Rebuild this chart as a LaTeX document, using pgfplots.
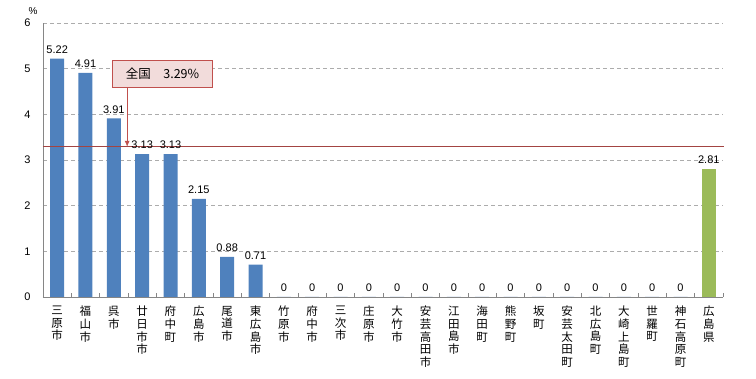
\documentclass[border=0pt]{standalone}
\usepackage{pgfplots}
\pgfplotsset{compat=1.18}
\usetikzlibrary{arrows.meta}
\usepackage{fontspec}
\setmainfont{Liberation Sans}
\newfontfamily\cjk{Noto Sans CJK JP}
\definecolor{barblue}{HTML}{4F81BD}
\definecolor{bargreen}{HTML}{9BBB59}
\definecolor{refred}{HTML}{C0504D}
\definecolor{boxfill}{HTML}{F2DCDB}
\definecolor{axgray}{HTML}{868686}
\begin{document}
\begin{tikzpicture}
\useasboundingbox (-43pt,-82pt) rectangle (713pt,297pt);
\begin{axis}[
  at={(0,0)}, anchor=south west,
  scale only axis, width=680pt, height=274pt,
  xmin=-0.5, xmax=23.5, ymin=0, ymax=6,
  axis lines=left,
  axis line style={axgray, -},
  ytick={0,1,2,3,4,5,6},
  ymajorgrids,
  grid style={gray!65, dash pattern=on 4pt off 3pt, line width=0.6pt},
  major tick length=0pt,
  /pgf/number format/assume math mode=true,
  yticklabel style={font=\fontsize{11}{12}\selectfont, xshift=-9pt},
  xtick={0,...,23},
  xticklabels={{三\\原\\市},{福\\山\\市},{呉\\市},{廿\\日\\市\\市},{府\\中\\町},{広\\島\\市},{尾\\道\\市},{東\\広\\島\\市},{竹\\原\\市},{府\\中\\市},{三\\次\\市},{庄\\原\\市},{大\\竹\\市},{安\\芸\\高\\田\\市},{江\\田\\島\\市},{海\\田\\町},{熊\\野\\町},{坂\\町},{安\\芸\\太\\田\\町},{北\\広\\島\\町},{大\\崎\\上\\島\\町},{世\\羅\\町},{神\\石\\高\\原\\町},{広\\島\\県}},
  xticklabel style={font=\cjk\fontsize{11.5}{12.6}\selectfont, align=center, anchor=north, inner sep=0pt, yshift=-9pt},
  extra x ticks={-0.5,0.5,...,23.5},
  extra x tick labels={},
  extra x tick style={grid=none, major tick length=4pt, tick align=inside, tick style={axgray, line width=0.6pt}},
  clip=false,
  nodes near coords,
  every node near coord/.append style={font=\fontsize{11}{12}\selectfont, black, inner sep=1pt, yshift=4pt},
]
\addplot[ybar, bar width=14pt, bar shift=0pt, fill=barblue, draw=none] coordinates {
(0,5.22)(1,4.91)(2,3.91)(3,3.13)(4,3.13)(5,2.15)(6,0.88)(7,0.71)(8,0)(9,0)(10,0)(11,0)(12,0)(13,0)(14,0)(15,0)(16,0)(17,0)(18,0)(19,0)(20,0)(21,0)(22,0)};
\addplot[ybar, bar width=14pt, bar shift=0pt, fill=bargreen, draw=none] coordinates {(23,2.81)};
\addplot[refred!85!black, line width=0.7pt, nodes near coords={}, forget plot] coordinates {(-0.5,3.29)(23.55,3.29)};
\draw[refred, line width=0.6pt, -{Latex[length=6pt,width=5pt]}] (axis cs:2.47,4.60) -- (axis cs:2.47,3.29);
\node[draw=refred, fill=boxfill, line width=0.8pt, minimum width=100pt, minimum height=27pt, anchor=north west, font=\cjk\fontsize{12.5}{14}\selectfont, inner sep=0pt] at (axis cs:1.94,5.19) {全国\hspace{1em}3.29\%};
\node[font=\fontsize{10}{12}\selectfont, anchor=center] at (-10pt,286pt) {\%};
\end{axis}
\end{tikzpicture}
\end{document}
